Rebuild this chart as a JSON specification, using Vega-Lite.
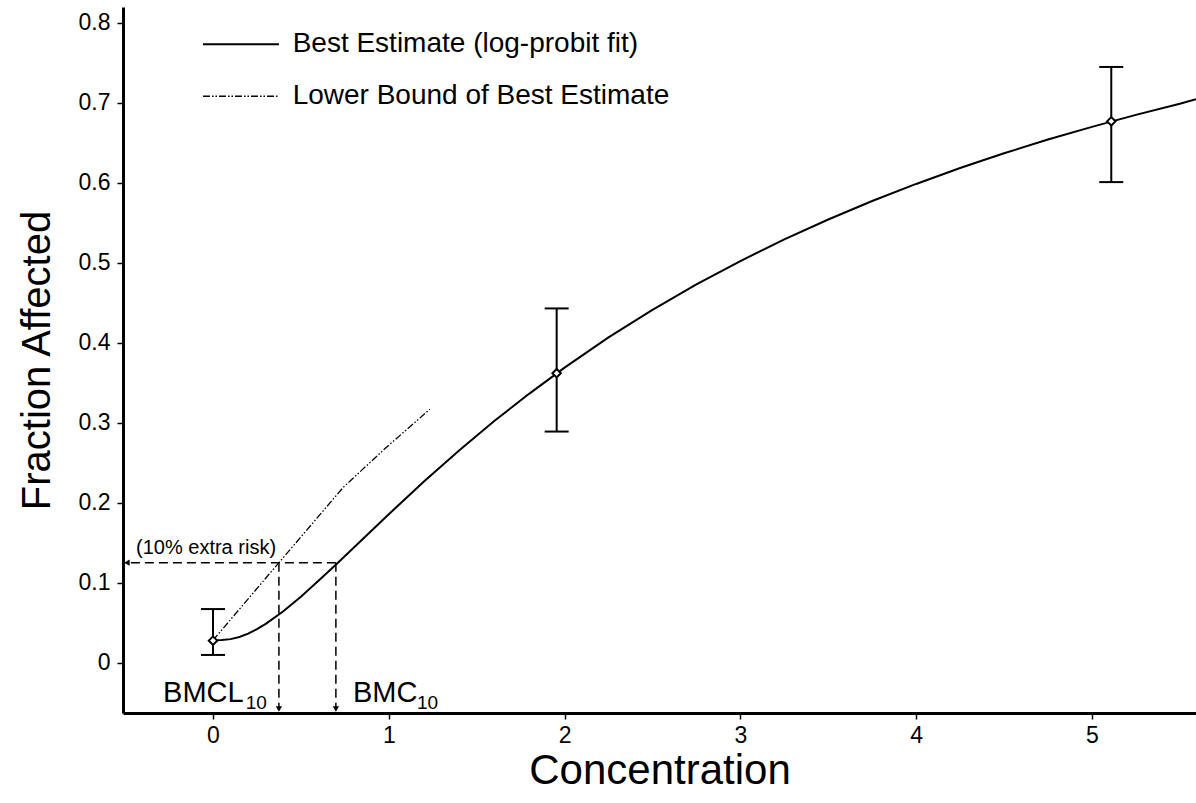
{
  "$schema": "https://vega.github.io/schema/vega-lite/v6.json",
  "width": 1073,
  "height": 706,
  "autosize": {"type": "none"},
  "padding": {"left": 123, "top": 7, "right": 0, "bottom": 90},
  "background": "white",
  "config": {
    "view": {"stroke": null},
    "font": "Liberation Sans",
    "axis": {
      "domainColor": "black",
      "domainWidth": 3,
      "tickColor": "black",
      "tickWidth": 1.5,
      "tickSize": 6,
      "labelFont": "Liberation Sans",
      "labelFontSize": 23,
      "labelColor": "black",
      "titleFont": "Liberation Sans",
      "titleFontSize": 40,
      "titleFontWeight": "normal",
      "titleColor": "black",
      "grid": false
    }
  },
  "datasets": {
    "best": [
      {"x": 0, "y": 0.028}, {"x": 0.05, "y": 0.0282}, {"x": 0.1, "y": 0.0294}, {"x": 0.15, "y": 0.0321},
      {"x": 0.2, "y": 0.0363}, {"x": 0.25, "y": 0.0418}, {"x": 0.3, "y": 0.0484}, {"x": 0.4, "y": 0.0643},
      {"x": 0.5, "y": 0.0824}, {"x": 0.6, "y": 0.1023}, {"x": 0.7, "y": 0.1226}, {"x": 0.8, "y": 0.1437},
      {"x": 0.9, "y": 0.1646}, {"x": 1.0, "y": 0.1856}, {"x": 1.2, "y": 0.2264}, {"x": 1.4, "y": 0.2653},
      {"x": 1.6, "y": 0.3021}, {"x": 1.8, "y": 0.3365}, {"x": 2.0, "y": 0.369}, {"x": 2.25, "y": 0.4068},
      {"x": 2.5, "y": 0.4411}, {"x": 2.75, "y": 0.473}, {"x": 3.0, "y": 0.5023}, {"x": 3.25, "y": 0.5294},
      {"x": 3.5, "y": 0.5542}, {"x": 3.75, "y": 0.5773}, {"x": 4.0, "y": 0.5987}, {"x": 4.25, "y": 0.6186},
      {"x": 4.5, "y": 0.637}, {"x": 4.75, "y": 0.6542}, {"x": 5.0, "y": 0.6701}, {"x": 5.25, "y": 0.6851},
      {"x": 5.5, "y": 0.6991}, {"x": 5.592, "y": 0.7048}
    ],
    "lower": [
      {"x": 0, "y": 0.028}, {"x": 0.375, "y": 0.125}, {"x": 0.74, "y": 0.219}, {"x": 0.98, "y": 0.268}, {"x": 1.234, "y": 0.317}
    ],
    "guides": [
      {"x": 0.699, "x2": -0.49, "y": 0.125, "y2": 0.125},
      {"x": 0.375, "x2": 0.375, "y": 0.125, "y2": -0.056},
      {"x": 0.699, "x2": 0.699, "y": 0.125, "y2": -0.056}
    ],
    "arrowsDown": [{"x": 0.375, "y": -0.058}, {"x": 0.699, "y": -0.058}],
    "arrowsLeft": [{"x": -0.49, "y": 0.125}],
    "obs": [
      {"x": 0, "y": 0.0275, "lo": 0.0096, "hi": 0.067},
      {"x": 1.955, "y": 0.362, "lo": 0.289, "hi": 0.443},
      {"x": 5.11, "y": 0.677, "lo": 0.601, "hi": 0.745}
    ],
    "legSolid": [{"x": -0.057, "x2": 0.375, "y": 0.7734}],
    "legDash": [{"x": -0.057, "x2": 0.375, "y": 0.7084}],
    "legText": [
      {"x": 0.453, "y": 0.7734, "label": "Best Estimate (log-probit fit)"},
      {"x": 0.453, "y": 0.7084, "label": "Lower Bound of Best Estimate"}
    ],
    "note": [{"x": -0.438, "y": 0.1434, "label": "(10% extra risk)"}],
    "bmBig": [
      {"x": -0.284, "y": -0.0488, "label": "BMCL"},
      {"x": 0.796, "y": -0.0488, "label": "BMC"}
    ],
    "bmSub": [
      {"x": 0.186, "y": -0.058, "label": "10"},
      {"x": 1.16, "y": -0.058, "label": "10"}
    ]
  },
  "layer": [
    {
      "data": {"name": "best"},
      "mark": {"type": "line", "color": "black", "strokeWidth": 2},
      "encoding": {
        "x": {
          "field": "x", "type": "quantitative",
          "scale": {"domain": [-0.512, 5.592], "nice": false, "zero": false},
          "axis": {"title": "Concentration", "values": [0, 1, 2, 3, 4, 5], "format": "d", "labelPadding": 5, "titlePadding": 3, "titleFontSize": 42}
        },
        "y": {
          "field": "y", "type": "quantitative",
          "scale": {"domain": [-0.063, 0.82], "nice": false, "zero": false},
          "axis": {"title": "Fraction Affected", "values": [0, 0.1, 0.2, 0.3, 0.4, 0.5, 0.6, 0.7, 0.8], "format": ".1~f", "labelPadding": 7, "titlePadding": 21}
        }
      }
    },
    {
      "data": {"name": "lower"},
      "mark": {"type": "line", "color": "black", "strokeWidth": 1.3, "strokeDash": [7, 2, 1.5, 2, 1.5, 2]},
      "encoding": {"x": {"field": "x", "type": "quantitative"}, "y": {"field": "y", "type": "quantitative"}}
    },
    {
      "data": {"name": "guides"},
      "mark": {"type": "rule", "color": "black", "strokeWidth": 1.5, "strokeDash": [9, 5]},
      "encoding": {
        "x": {"field": "x", "type": "quantitative"}, "x2": {"field": "x2"},
        "y": {"field": "y", "type": "quantitative"}, "y2": {"field": "y2"}
      }
    },
    {
      "data": {"name": "arrowsDown"},
      "mark": {"type": "point", "shape": "triangle-down", "filled": true, "color": "black", "size": 40, "opacity": 1},
      "encoding": {"x": {"field": "x", "type": "quantitative"}, "y": {"field": "y", "type": "quantitative"}}
    },
    {
      "data": {"name": "arrowsLeft"},
      "mark": {"type": "point", "shape": "triangle-left", "filled": true, "color": "black", "size": 40, "opacity": 1},
      "encoding": {"x": {"field": "x", "type": "quantitative"}, "y": {"field": "y", "type": "quantitative"}}
    },
    {
      "data": {"name": "obs"},
      "mark": {"type": "rule", "color": "black", "strokeWidth": 2},
      "encoding": {
        "x": {"field": "x", "type": "quantitative"},
        "y": {"field": "lo", "type": "quantitative"}, "y2": {"field": "hi"}
      }
    },
    {
      "data": {"name": "obs"},
      "mark": {"type": "tick", "orient": "horizontal", "color": "black", "size": 24, "thickness": 2, "opacity": 1},
      "encoding": {"x": {"field": "x", "type": "quantitative"}, "y": {"field": "lo", "type": "quantitative"}}
    },
    {
      "data": {"name": "obs"},
      "mark": {"type": "tick", "orient": "horizontal", "color": "black", "size": 24, "thickness": 2, "opacity": 1},
      "encoding": {"x": {"field": "x", "type": "quantitative"}, "y": {"field": "hi", "type": "quantitative"}}
    },
    {
      "data": {"name": "obs"},
      "mark": {"type": "point", "shape": "diamond", "filled": true, "fill": "white", "stroke": "black", "strokeWidth": 2, "size": 72, "opacity": 1},
      "encoding": {"x": {"field": "x", "type": "quantitative"}, "y": {"field": "y", "type": "quantitative"}}
    },
    {
      "data": {"name": "legSolid"},
      "mark": {"type": "rule", "color": "black", "strokeWidth": 2},
      "encoding": {"x": {"field": "x", "type": "quantitative"}, "x2": {"field": "x2"}, "y": {"field": "y", "type": "quantitative"}}
    },
    {
      "data": {"name": "legDash"},
      "mark": {"type": "rule", "color": "black", "strokeWidth": 1.3, "strokeDash": [7, 2, 1.5, 2, 1.5, 2]},
      "encoding": {"x": {"field": "x", "type": "quantitative"}, "x2": {"field": "x2"}, "y": {"field": "y", "type": "quantitative"}}
    },
    {
      "data": {"name": "legText"},
      "mark": {"type": "text", "align": "left", "baseline": "middle", "fontSize": 28, "color": "black", "font": "Liberation Sans"},
      "encoding": {"x": {"field": "x", "type": "quantitative"}, "y": {"field": "y", "type": "quantitative"}, "text": {"field": "label"}}
    },
    {
      "data": {"name": "note"},
      "mark": {"type": "text", "align": "left", "baseline": "middle", "fontSize": 20, "color": "black", "font": "Liberation Sans"},
      "encoding": {"x": {"field": "x", "type": "quantitative"}, "y": {"field": "y", "type": "quantitative"}, "text": {"field": "label"}}
    },
    {
      "data": {"name": "bmBig"},
      "mark": {"type": "text", "align": "left", "baseline": "alphabetic", "fontSize": 29, "color": "black", "font": "Liberation Sans"},
      "encoding": {"x": {"field": "x", "type": "quantitative"}, "y": {"field": "y", "type": "quantitative"}, "text": {"field": "label"}}
    },
    {
      "data": {"name": "bmSub"},
      "mark": {"type": "text", "align": "left", "baseline": "alphabetic", "fontSize": 19, "color": "black", "font": "Liberation Sans"},
      "encoding": {"x": {"field": "x", "type": "quantitative"}, "y": {"field": "y", "type": "quantitative"}, "text": {"field": "label"}}
    },
    {
      "mark": {"type": "rule", "color": "black", "strokeWidth": 3},
      "encoding": {"y": {"datum": 0.82}}
    }
  ]
}
